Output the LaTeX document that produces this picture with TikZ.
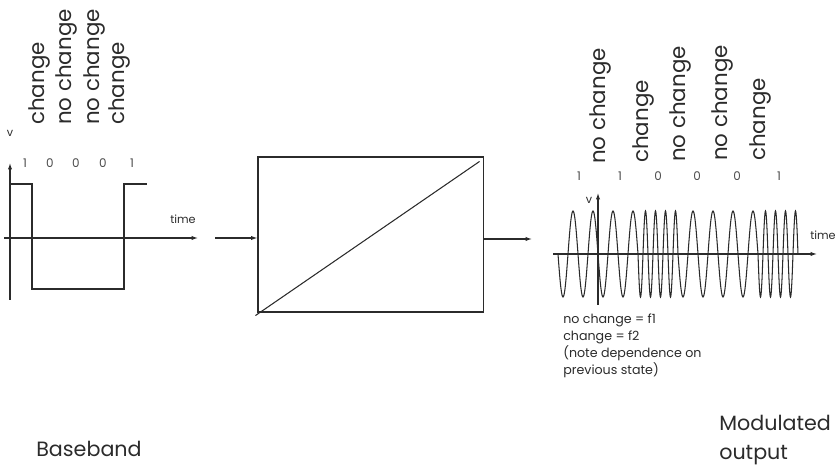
\documentclass[tikz,border=0pt]{standalone}
\usepackage{fontspec}
\setmainfont{Poppins}
\usetikzlibrary{arrows.meta,positioning,calc}
\definecolor{ink}{HTML}{2B2B2B}

\begin{document}
\begin{tikzpicture}[
  x=0.025cm, y=-0.025cm,
  font=\fontsize{9}{11}\selectfont, text=ink,
  ln/.style={draw=ink, line width=0.75pt},
  axis/.style={ln, -{Latex[length=4.5pt,width=3pt]}},
  vlab/.style={rotate=90, anchor=west, inner sep=0pt, font=\fontsize{15.2}{18}\selectfont},
  bit/.style={inner sep=0pt, text=ink!85, font=\fontsize{8.5}{10}\selectfont},
  small/.style={inner sep=0pt, font=\fontsize{8}{10}\selectfont},
  big/.style={inner sep=0pt, align=left, anchor=west, font=\fontsize{14.7}{20}\selectfont},
  note/.style={inner sep=0pt, align=left, anchor=north west, font=\fontsize{9}{12}\selectfont},
  modbox/.style={ln, minimum width=5.625cm, minimum height=3.875cm, inner sep=0pt}
]
\useasboundingbox (0,0) rectangle (837,465);

% baseband side
\coordinate (lvbot) at (10,300);
\coordinate (lvtop) at (10,163);
\coordinate (ltbeg) at (4,238);
\coordinate (ltend) at (198,238);
\draw[axis] (lvbot) -- (lvtop);
\draw[axis] (ltbeg) -- (ltend);
\draw[ln] (10,184) -- (32,184) -- (32,289) -- (124,289) -- (124,184) -- (147,184);
\node[small] (lv) at (10,133) {v};
\node[small, anchor=west] (ltime) at (170,219) {time};
\foreach \x/\b [count=\i] in {25/1,50/0,76/0,103/0,132/1}
  \node[bit] (lb\i) at (\x,163) {\b};
\node[vlab] (lc1) at (39,125) {change};
\node[vlab] (lc2) at (66,125) {no change};
\node[vlab] (lc3) at (94,125) {no change};
\node[vlab] (lc4) at (119,125) {change};
\node[big] (base) at (36,449) {Baseband};

% modulator
\node[modbox] (mod) at (370.5,234.5) {};
\draw[ln] ($(mod.south west)+(-2,3)$) -- ($(mod.north east)+(-4,5)$);
\coordinate (bbin) at (215,238);
\coordinate (fskout) at (532,239);
\draw[axis] (bbin) -- (bbin -| mod.west);
\draw[axis] (fskout -| mod.east) -- (fskout);

% modulated side
\coordinate (rvbot) at (598,305);
\coordinate (rvtop) at (598,193);
\coordinate (rtbeg) at (553,254);
\coordinate (rtend) at (817,254);
\draw[axis] (rvbot) -- (rvtop);
\draw[axis] (rtbeg) -- (rtend);
\foreach \xs/\per in {558/20,638/10,678/20,758/10}
  \draw[ln] plot[domain=0:4*\per, samples=81, smooth] ({\xs+\x},{254+43*sin(\x/\per*360)});
\node[small] (rv) at (589,200) {v};
\node[small, anchor=west] (rtime) at (810,235) {time};
\foreach \x/\b [count=\i] in {579/1,620/1,658/0,697/0,737/0,779/1}
  \node[bit] (rb\i) at (\x,176) {\b};
\node[vlab] (rc1) at (600,164) {no change};
\node[vlab] (rc2) at (643,163) {change};
\node[vlab] (rc3) at (680,162) {no change};
\node[vlab] (rc4) at (722,161) {no change};
\node[vlab] (rc5) at (760,161) {change};
\node[note] (legend) at (563,314) {no change = f1\\change = f2\\(note dependence on\\previous state)};
\node[big] (modout) at (719,440) {Modulated\\output};
\end{tikzpicture}
\end{document}
